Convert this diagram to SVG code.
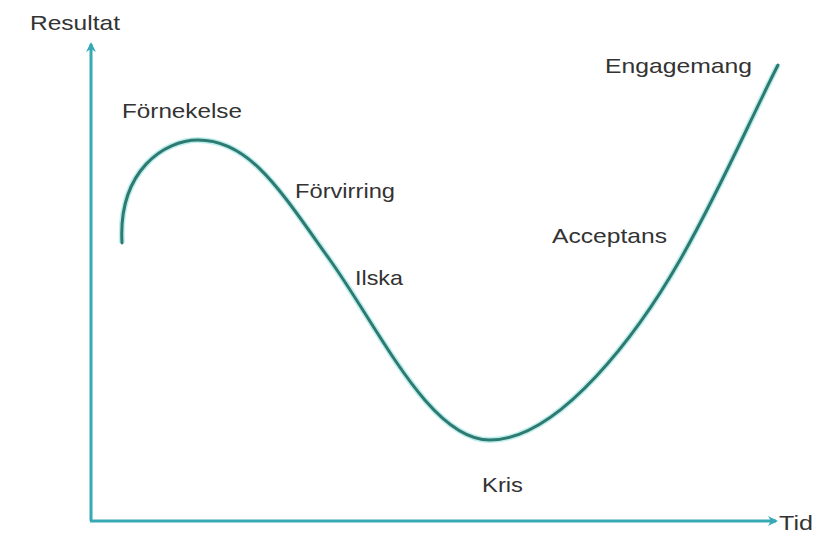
<svg xmlns="http://www.w3.org/2000/svg" width="823" height="538" viewBox="0 0 823 538">
<style>
.lbl{font-family:"Liberation Sans",Arial,sans-serif;font-size:21px;fill:#333;}
.axis{stroke:#36a9b5;stroke-width:3;fill:none;}
.curve{stroke:#2f7a70;stroke-width:3;fill:none;stroke-linecap:round;}
.halo{stroke:#bdeeee;stroke-width:6;fill:none;}
</style>
<defs>
<marker id="arr" markerWidth="10" markerHeight="10" refX="8" refY="5" orient="auto" markerUnits="userSpaceOnUse">
<path d="M0,0 L10,5 L0,10 L3,5 Z" fill="#36a9b5"/>
</marker>
</defs>
<rect width="823" height="538" fill="#fff"/>
<g id="connectors">
<line class="axis" x1="91" y1="521" x2="91" y2="44" marker-end="url(#arr)"/>
<line class="axis" x1="90" y1="521" x2="776" y2="521" marker-end="url(#arr)"/>
<path class="halo" d="M122,243 C118,170 165,140 198,140 C250,140 280,190 330,260 C380,330 430,440 490,440 C560,440 640,330 680,260 C720,190 750,120 778,65"/>
<path class="curve" d="M122,243 C118,170 165,140 198,140 C250,140 280,190 330,260 C380,330 430,440 490,440 C560,440 640,330 680,260 C720,190 750,120 778,65"/>
</g>
<g id="resultat"><text class="lbl" x="30" y="30" textLength="90" lengthAdjust="spacingAndGlyphs">Resultat</text></g>
<g id="fornekelse"><text class="lbl" x="122" y="118" textLength="120" lengthAdjust="spacingAndGlyphs">Förnekelse</text></g>
<g id="forvirring"><text class="lbl" x="295" y="198" textLength="100" lengthAdjust="spacingAndGlyphs">Förvirring</text></g>
<g id="ilska"><text class="lbl" x="355" y="285" textLength="48" lengthAdjust="spacingAndGlyphs">Ilska</text></g>
<g id="acceptans"><text class="lbl" x="552" y="243" textLength="115" lengthAdjust="spacingAndGlyphs">Acceptans</text></g>
<g id="engagemang"><text class="lbl" x="605" y="73" textLength="147" lengthAdjust="spacingAndGlyphs">Engagemang</text></g>
<g id="kris"><text class="lbl" x="482" y="492" textLength="41" lengthAdjust="spacingAndGlyphs">Kris</text></g>
<g id="tid"><text class="lbl" x="779" y="530" textLength="34" lengthAdjust="spacingAndGlyphs">Tid</text></g>
</svg>
